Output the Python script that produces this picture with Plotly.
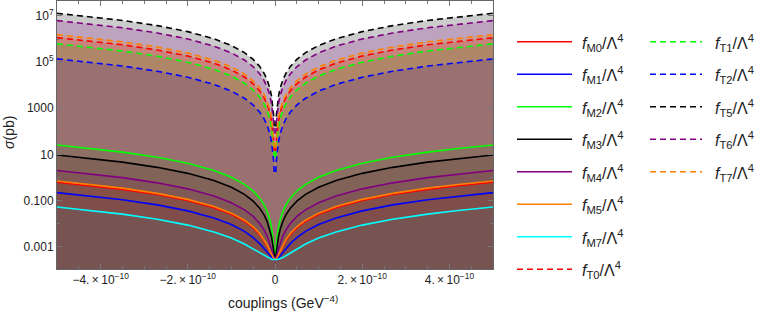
import plotly.graph_objects as go

# coupling values (units of 1e-10 GeV^-4) for the non-negative half; curves are symmetric in f
f_M_half = [0, 0.0165, 0.03, 0.05, 0.08, 0.12, 0.18, 0.25, 0.35, 0.5, 0.7, 1.0, 1.4, 2.0, 2.7, 3.5, 4.2, 5.0]
f_T_half = [0.0165, 0.03, 0.05, 0.08, 0.12, 0.18, 0.25, 0.35, 0.5, 0.7, 1.0, 1.4, 2.0, 2.7, 3.5, 4.2, 5.0]

# cross sections (pb) at f_M_half
sigma_M0 = [2.7e-4, 2.77e-4, 2.92e-4, 3.32e-4, 4.29e-4, 6.27e-4, 1.07e-3, 1.82e-3, 3.31e-3, 6.47e-3,
            0.0124, 0.0251, 0.0489, 0.0992, 0.181, 0.304, 0.4375, 0.62]
sigma_M1 = [2.7e-4, 2.72e-4, 2.78e-4, 2.92e-4, 3.26e-4, 3.97e-4, 5.55e-4, 8.2e-4, 1.35e-3, 2.47e-3,
            4.58e-3, 9.07e-3, 0.0175, 0.0355, 0.0645, 0.108, 0.155, 0.22]
sigma_M2 = [2.7e-4, 5.49e-4, 1.19e-3, 2.83e-3, 6.82e-3, 0.0150, 0.0335, 0.0643, 0.126, 0.256,
            0.502, 1.024, 2.007, 4.096, 7.465, 12.54, 18.06, 25.6]
sigma_M3 = [2.7e-4, 3.72e-4, 6.08e-4, 1.21e-3, 2.68e-3, 5.68e-3, 0.01245, 0.0238, 0.0463, 0.094,
            0.184, 0.376, 0.737, 1.504, 2.741, 4.606, 6.633, 9.4]
sigma_M4 = [2.7e-4, 2.92e-4, 3.42e-4, 4.7e-4, 7.82e-4, 1.42e-3, 2.86e-3, 5.27e-3, 0.0101, 0.0203,
            0.0395, 0.08, 0.157, 0.32, 0.583, 0.98, 1.411, 2.0]
sigma_M5 = [2.7e-4, 2.78e-4, 2.95e-4, 3.4e-4, 4.49e-4, 6.73e-4, 1.18e-3, 2.02e-3, 3.7e-3, 7.27e-3,
            0.014, 0.0283, 0.0552, 0.112, 0.204, 0.343, 0.494, 0.70]
sigma_M7 = [2.7e-4, 2.71e-4, 2.72e-4, 2.75e-4, 2.83e-4, 3.0e-4, 3.37e-4, 4.0e-4, 5.25e-4, 7.9e-4,
            1.29e-3, 2.35e-3, 4.35e-3, 8.59e-3, 0.0154, 0.0257, 0.037, 0.052]

# cross sections (pb) at f_T_half
sigma_T0 = [12.5, 41.4, 115, 294, 662, 1490, 2875, 5635, 11500, 22540,
            46000, 90160, 1.84e5, 3.35e5, 5.64e5, 8.11e5, 1.15e6]
sigma_T1 = [6.75, 22.3, 62, 159, 357, 804, 1550, 3038, 6200, 12150,
            24800, 48600, 99200, 1.81e5, 3.04e5, 4.37e5, 6.2e5]
sigma_T2 = [1.50, 4.97, 13.8, 35.3, 79.5, 179, 345, 676, 1380, 2705,
            5520, 10820, 22080, 40240, 67620, 97370, 1.38e5]
sigma_T5 = [143, 472, 1310, 3354, 7546, 16980, 32750, 64190, 1.31e5, 2.57e5,
            5.24e5, 1.03e6, 2.10e6, 3.82e6, 6.42e6, 9.24e6, 1.31e7]
sigma_T6 = [69, 227, 630, 1613, 3629, 8165, 15750, 30870, 63000, 1.235e5,
            2.52e5, 4.94e5, 1.008e6, 1.837e6, 3.087e6, 4.445e6, 6.3e6]
sigma_T7 = [16.9, 55.8, 155, 397, 893, 2009, 3875, 7595, 15500, 30380,
            62000, 1.215e5, 2.48e5, 4.52e5, 7.6e5, 1.094e6, 1.55e6]

names = ["M0", "M1", "M2", "M3", "M4", "M5", "M7", "T0", "T1", "T2", "T5", "T6", "T7"]
values = [sigma_M0, sigma_M1, sigma_M2, sigma_M3, sigma_M4, sigma_M5, sigma_M7,
          sigma_T0, sigma_T1, sigma_T2, sigma_T5, sigma_T6, sigma_T7]
colors = [(255, 0, 0), (0, 0, 255), (0, 255, 0), (0, 0, 0), (128, 0, 128), (255, 128, 0), (0, 255, 255),
          (255, 0, 0), (0, 255, 0), (0, 0, 255), (0, 0, 0), (128, 0, 128), (255, 128, 0)]

x_tickvals = [-4e-10, -2e-10, 0, 2e-10, 4e-10]
x_ticktext = ["\u22124.\u2009\u00d7\u200910<sup>\u221210</sup>", "\u22122.\u2009\u00d7\u200910<sup>\u221210</sup>", "0",
              "2.\u2009\u00d7\u200910<sup>\u221210</sup>", "4.\u2009\u00d7\u200910<sup>\u221210</sup>"]
x_minor = [k * 0.5e-10 for k in range(-10, 11) if k % 4 != 0]
y_tickvals = [1e-3, 0.1, 10, 1000, 1e5, 1e7]
y_ticktext = ["0.001", "0.100", "10", "1000", "10<sup>5</sup>", "10<sup>7</sup>"]
y_minor = [1e-2, 1, 100, 1e4, 1e6]


def full_series(half_f, half_y):
    if half_f[0] == 0:
        xs = [-v for v in half_f[:0:-1]] + list(half_f)
        ys = list(half_y[:0:-1]) + list(half_y)
    else:
        xs = [-v for v in half_f[::-1]] + list(half_f)
        ys = list(half_y[::-1]) + list(half_y)
    return [v * 1e-10 for v in xs], ys


fig = go.Figure()
series = []
for name, vals, col in zip(names, values, colors):
    half_f = f_M_half if name.startswith("M") else f_T_half
    xs, ys = full_series(half_f, vals)
    series.append((name, xs, ys, col))

# fillings to the bottom (drawn first)
for name, xs, ys, col in series:
    fig.add_trace(go.Scatter(
        x=xs + [xs[-1], xs[0]], y=ys + [1e-6, 1e-6], mode="lines", fill="toself",
        fillcolor="rgba(%d,%d,%d,0.2)" % col, line=dict(width=0), hoverinfo="skip", showlegend=False))

# curves
for name, xs, ys, col in series:
    fig.add_trace(go.Scatter(
        x=xs, y=ys, mode="lines", name=name,
        line=dict(color="rgb(%d,%d,%d)" % col, width=1.6,
                  dash="solid" if name.startswith("M") else "6px,4px"),
        showlegend=False))

# manual legend (two columns)
L, R_, T, B = 57, 493, 1, 269
W, H = R_ - L, B - T


def px(x):
    return (x - L) / W


def py(y):
    return (B - y) / H


shapes = []
annotations = []
col1 = names[:8]
col2 = names[8:]
for ci, entries in enumerate([col1, col2]):
    x0, x1, xt = (517, 572, 580) if ci == 0 else (650, 702, 713)
    for k, name in enumerate(entries):
        idx = names.index(name)
        col = colors[idx]
        yy = 41.7 + 32.5 * k
        shapes.append(dict(type="line", xref="paper", yref="paper", x0=px(x0), x1=px(x1), y0=py(yy), y1=py(yy),
                           line=dict(color="rgb(%d,%d,%d)" % col, width=1.6,
                                     dash="solid" if name.startswith("M") else "6px,4px")))
        annotations.append(dict(xref="paper", yref="paper", x=px(xt), y=py(yy + 1), xanchor="left", yanchor="middle",
                                text="<i>f</i><sub>%s</sub>/\u039b<sup>4</sup>" % name, showarrow=False,
                                font=dict(size=16, color="#222")))

# axis titles
annotations.append(dict(xref="paper", yref="paper", x=px(283), y=py(302), xanchor="center", yanchor="middle",
                        text="couplings (GeV<sup>\u22124)</sup>", showarrow=False, font=dict(size=14, color="#222")))
annotations.append(dict(xref="paper", yref="paper", x=px(9), y=py(133), xanchor="center", yanchor="middle",
                        text="<i>\u03c3</i>(pb)", textangle=-90, showarrow=False, font=dict(size=14, color="#222")))

axis_common = dict(showline=True, linecolor="#666", linewidth=1, mirror="ticks", ticks="inside",
                   ticklen=5, tickcolor="#777", tickwidth=1, showgrid=False, zeroline=False,
                   automargin=False, tickfont=dict(size=12, color="#222"))

fig.update_layout(
    width=760, height=314,
    margin=dict(l=L, r=760 - R_, t=T, b=314 - B),
    paper_bgcolor="white", plot_bgcolor="white",
    font=dict(family="Liberation Sans, Arial, sans-serif", color="#222"),
    xaxis=dict(range=[-5e-10, 5e-10], tickvals=x_tickvals, ticktext=x_ticktext,
               minor=dict(tickvals=x_minor, ticks="inside", ticklen=3, tickcolor="#777"),
               **axis_common),
    yaxis=dict(type="log", range=[-3.97, 7.65], tickvals=y_tickvals, ticktext=y_ticktext,
               minor=dict(tickvals=y_minor, ticks="inside", ticklen=3, tickcolor="#777"),
               **axis_common),
    shapes=shapes, annotations=annotations,
)

fig.write_html("out.html", config={"displayModeBar": False},
               post_script="document.body.style.margin='0px';document.body.style.overflow='hidden';")
